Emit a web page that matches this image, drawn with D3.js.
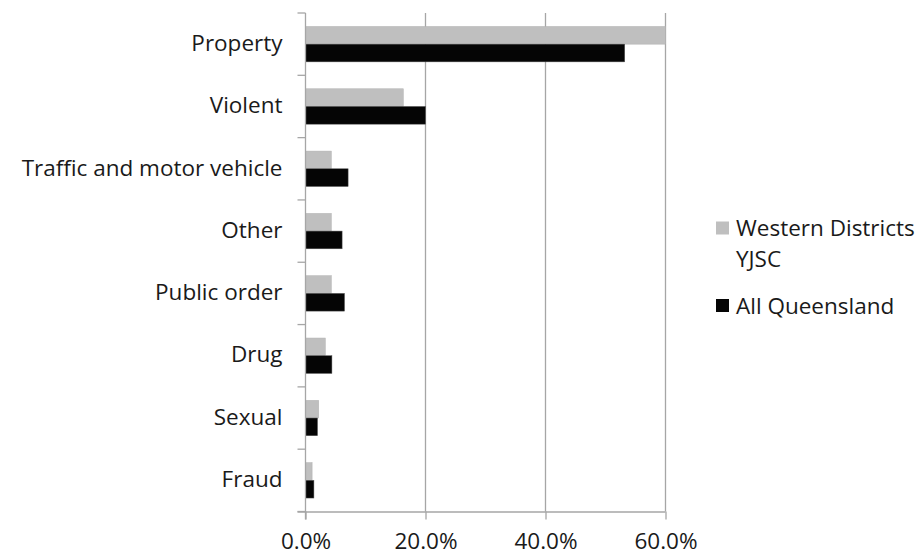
<!DOCTYPE html>
<html>
<head>
<meta charset="utf-8">
<script src="https://cdn.jsdelivr.net/npm/d3@7"></script>
<style>
  html, body { margin: 0; padding: 0; background: #fff; }
  svg { display: block; font-family: "Open Sans", Lato, sans-serif; }
</style>
</head>
<body>
<svg id="chart" width="924" height="555"></svg>
<script>
const categories = ['Property', 'Violent', 'Traffic and motor vehicle', 'Other',
                    'Public order', 'Drug', 'Sexual', 'Fraud'];
const seriesNames = ['Western Districts YJSC', 'All Queensland'];
const western = [60.0, 16.3, 4.3, 4.3, 4.3, 3.3, 2.2, 1.1];
const queensland = [53.2, 20.0, 7.1, 6.1, 6.5, 4.4, 2.0, 1.4];
const xTicks = [0, 20, 40, 60];

const COLORS = ['#bfbfbf', '#050505'];
const GRID = '#a6a6a6';
const FONT = '"Open Sans", Lato, sans-serif';
const FS = 22.5;

const svg = d3.select('#chart');
const mLeft = 305.5, mRight = 665.5, mTop = 13, mBottom = 511.5;

const x = d3.scaleLinear().domain([0, 60]).range([mLeft, mRight]);
const y = d3.scaleBand().domain(categories).range([mTop, mBottom])
  .paddingInner(0.432).paddingOuter(0.216);
const ySub = d3.scaleBand().domain([0, 1]).range([0, y.bandwidth()]);

// gridlines
svg.append('g')
  .selectAll('line')
  .data(xTicks.filter(d => d > 0))
  .join('line')
  .attr('x1', d => x(d)).attr('x2', d => x(d))
  .attr('y1', mTop).attr('y2', mBottom)
  .attr('stroke', GRID).attr('stroke-width', 1.3);

// bars
const rows = categories.map((c, i) => ({ c, v: [western[i], queensland[i]] }));
const g = svg.append('g');
rows.forEach(r => {
  r.v.forEach((v, j) => {
    g.append('rect')
      .attr('x', x(0))
      .attr('y', y(r.c) + ySub(j))
      .attr('width', x(Math.min(v, 60)) - x(0))
      .attr('height', ySub.bandwidth())
      .attr('fill', COLORS[j])
      .attr('stroke', j === 0 ? '#b0b0b0' : '#555')
      .attr('stroke-width', 0.5);
  });
});

// x axis
const xAxis = svg.append('g')
  .attr('transform', `translate(0,${mBottom})`)
  .call(d3.axisBottom(x).tickValues(xTicks).tickSize(8).tickPadding(14)
    .tickFormat(d => d.toFixed(1) + '%'));
xAxis.select('.domain').attr('stroke', GRID).attr('stroke-width', 1.3)
  .attr('d', `M${mLeft - 8},0.5H${mRight}`);
xAxis.selectAll('.tick line').attr('stroke', GRID).attr('stroke-width', 1.3);
xAxis.selectAll('text').attr('font-size', FS).attr('fill', '#1a1a1a')
  .attr('font-family', FONT);

// y axis
const yAxis = svg.append('g').attr('transform', `translate(${mLeft},0)`);
yAxis.append('line')
  .attr('x1', 0).attr('x2', 0).attr('y1', mTop).attr('y2', mBottom + 8)
  .attr('stroke', GRID).attr('stroke-width', 1.3);
const step = y.step();
yAxis.selectAll('line.tk')
  .data(d3.range(categories.length + 1))
  .join('line').attr('class', 'tk')
  .attr('x1', -8).attr('x2', 0)
  .attr('y1', i => mTop + i * step).attr('y2', i => mTop + i * step)
  .attr('stroke', GRID).attr('stroke-width', 1.3);
yAxis.selectAll('text')
  .data(categories)
  .join('text')
  .attr('x', -23)
  .attr('y', d => y(d) + y.bandwidth() / 2)
  .attr('dy', '0.3em')
  .attr('text-anchor', 'end')
  .attr('font-size', FS).attr('fill', '#1a1a1a')
  .text(d => d);

// legend
const legend = svg.append('g');
const legendItems = [
  { lines: ['Western Districts', 'YJSC'], y: 228, color: COLORS[0] },
  { lines: ['All Queensland'], y: 305.5, color: COLORS[1] }
];
legendItems.forEach(it => {
  legend.append('rect')
    .attr('x', 716).attr('y', it.y - 6.5).attr('width', 13).attr('height', 13)
    .attr('fill', it.color);
  it.lines.forEach((t, k) => {
    legend.append('text')
      .attr('x', 736).attr('y', it.y + 8 + k * 31.3)
      .attr('font-size', FS).attr('fill', '#1a1a1a')
      .text(t);
  });
});
</script>
</body>
</html>
